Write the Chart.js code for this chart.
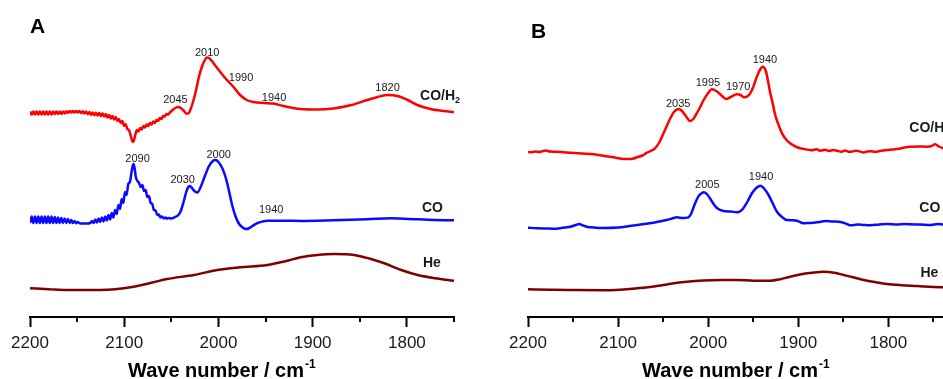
<!DOCTYPE html>
<html>
<head>
<meta charset="utf-8">
<script src="https://cdn.jsdelivr.net/npm/chart.js@4.4.1/dist/chart.umd.min.js"></script>
<style>
  html, body { margin: 0; padding: 0; background: #fff; }
  body { width: 943px; height: 379px; overflow: hidden; position: relative; }
  .panel { position: absolute; top: 0; height: 379px; }
  #panelA { left: 0; width: 470px; }
  #panelB { left: 470px; width: 490px; }
</style>
</head>
<body>
<div class="panel" id="panelA"><canvas id="chartA" width="470" height="379"></canvas></div>
<div class="panel" id="panelB"><canvas id="chartB" width="490" height="379"></canvas></div>
<script>
// x axis (wave number, cm-1), reversed
const xMajor = [2200, 2100, 2000, 1900, 1800];
const xMinor = [2150, 2050, 1950, 1850, 1750];

// panel A spectra: [wave number, intensity (a.u., offset stacked)]
const aCOH2 = [
  [2200, 205.5], [2198.2, 202.5], [2196.5, 205.5], [2194.7, 202.5], [2193, 205.5], [2191.2, 202.5],
  [2189.5, 205.5], [2187.7, 202.5], [2186, 205.5], [2184.2, 202.5], [2182.5, 205.5], [2180.7, 202.5],
  [2179, 205.5], [2177.2, 202.5], [2175.5, 205.5], [2173.7, 202.8], [2172, 205.5], [2170.2, 203],
  [2168.5, 205.5], [2166.7, 203], [2165, 205.6], [2163.2, 203.5], [2161.5, 205.8], [2159.7, 204],
  [2158, 206], [2156.2, 204.5], [2154.5, 206], [2152.7, 204.5], [2151, 206], [2149.2, 204.5],
  [2147.5, 206], [2145.7, 204], [2144, 205.8], [2142.2, 203.5], [2140.5, 205.5], [2138.7, 202.8],
  [2137, 205], [2135.2, 202.2], [2133.5, 204.5], [2131.7, 201.8], [2130, 204.2], [2128.2, 201.5],
  [2126.5, 204], [2124.7, 201], [2123, 203.5], [2121.2, 200.5], [2119.5, 203], [2117.7, 199.5],
  [2116, 202], [2114.2, 198.5], [2112.5, 201], [2110.7, 197.5], [2109, 200], [2107.2, 196],
  [2105.5, 198], [2103.7, 194], [2102, 196], [2100.2, 191], [2098.5, 193], [2096.7, 188],
  [2095, 187], [2093, 181], [2091.5, 176], [2090.5, 175], [2089.5, 177], [2088, 183],
  [2086.5, 187], [2085, 185.5], [2083.2, 189], [2081.5, 187.5], [2079.7, 191], [2078, 189.5],
  [2076.2, 192.5], [2074.5, 191], [2072.7, 194], [2071, 192.5], [2069.2, 195.5], [2067.5, 194],
  [2065.7, 197], [2064, 196], [2062.2, 199], [2060.5, 198], [2058.7, 201], [2057, 200.5],
  [2055.2, 203], [2053.5, 202.5], [2051, 205], [2048, 207.5], [2045, 209.5], [2043, 210],
  [2040, 209], [2037, 206.5], [2034, 203.5], [2032, 203.5], [2029.5, 208], [2027, 215],
  [2024, 226], [2021, 239], [2018, 249], [2015, 256], [2012, 259.5], [2010, 259],
  [2007, 256], [2003, 251], [1998, 245], [1991, 237], [1984, 230], [1977, 222],
  [1970, 217], [1963, 215], [1952, 214], [1942, 213.5], [1931, 211], [1913, 208],
  [1895, 207.5], [1878, 208.5], [1860, 211.7], [1842, 217], [1831, 220], [1820, 222],
  [1810, 221], [1799, 217], [1789, 212], [1775, 208], [1761, 206], [1750, 205]
];
const aCO = [
  [2200, 94], [2198.2, 100.5], [2196.5, 94], [2194.7, 100.5], [2193, 94], [2191.2, 100.5],
  [2189.5, 94], [2187.7, 100.5], [2186, 94], [2184.2, 100.5], [2182.5, 94], [2180.7, 100.5],
  [2179, 94], [2177.2, 100.5], [2175.5, 94], [2173.7, 100], [2172, 94], [2170.2, 99.5],
  [2168.5, 94], [2166.7, 99], [2165, 94], [2163.2, 98.5], [2161.5, 94], [2159.7, 98],
  [2158, 94], [2156.2, 97], [2154.5, 94], [2152.7, 96], [2151, 93.8], [2149.2, 95],
  [2147, 93.5], [2144, 93.5], [2140, 93.5], [2136, 94], [2134.2, 96], [2132.5, 94],
  [2130.7, 97.5], [2129, 94.5], [2127.2, 98.5], [2125.5, 95], [2123.7, 99.5], [2122, 95.5],
  [2120.2, 100.5], [2118.5, 96.5], [2116.7, 102], [2115, 97.5], [2113.2, 104], [2111.5, 99.5],
  [2109.7, 107], [2108, 103], [2106.2, 112], [2104.5, 108], [2102.7, 118], [2101, 114],
  [2099.2, 125], [2097.5, 122], [2095.7, 133], [2094, 135], [2092.2, 145], [2090.8, 152],
  [2090, 153], [2089, 149], [2087.7, 140], [2086, 136], [2084.2, 134], [2082.5, 130],
  [2080.7, 132], [2079, 126], [2077.2, 127], [2075.5, 120], [2073.7, 121], [2072, 114],
  [2070.2, 113], [2068.5, 107], [2066.7, 106.5], [2065, 102], [2063.2, 102.5], [2061.5, 99.5],
  [2059.7, 100.5], [2058, 98.5], [2056.2, 99.5], [2054.5, 98.5], [2052.7, 99], [2050, 98.5],
  [2046, 100], [2042.5, 102], [2040, 106], [2037, 115], [2034.5, 124], [2032, 130],
  [2030.5, 131], [2028.5, 129.5], [2025.5, 126], [2022.5, 124.5], [2018, 132], [2014, 142],
  [2010, 151], [2006, 156], [2003, 157], [2000, 155], [1996, 149], [1992.5, 140],
  [1989, 127], [1985.5, 112], [1982, 101], [1978.7, 94], [1975, 90], [1971, 88],
  [1968, 88.5], [1964, 91], [1958.5, 94], [1953, 95.5], [1948, 96.3], [1930, 96.3],
  [1912.8, 96], [1877.5, 96.7], [1842, 97.7], [1817, 98.7], [1788.6, 97.7], [1770, 97],
  [1750, 96.7]
];
const aHe = [
  [2200, 28.7], [2180, 27.8], [2161, 27], [2125, 27], [2090, 30.3], [2070, 34.5],
  [2054.6, 38], [2026, 42], [2001.4, 47], [1977, 49.7], [1948, 52], [1930, 55.5],
  [1912.8, 59.7], [1895, 62], [1877, 63], [1856, 62], [1840, 58.5], [1824, 53.7],
  [1806, 47], [1788.6, 42], [1770, 38.8], [1750, 36.3]
];

// panel B spectra
const bCOH2 = [
  [2200, 165], [2196, 164.7], [2192, 165.5], [2188, 165], [2184, 165.8], [2180, 166.5],
  [2176, 165.5], [2170, 165.3], [2163, 165], [2153, 164.3], [2140, 163.5], [2127, 162.7],
  [2115, 161], [2105, 159.7], [2096, 158.2], [2090, 158], [2084, 158.3], [2079, 159.7],
  [2073, 161.5], [2068, 164.3], [2063, 166.5], [2059, 168.7], [2054, 175], [2049.6, 183.7],
  [2046, 191], [2042, 198.7], [2038, 205], [2033, 208], [2029, 206], [2025.6, 202],
  [2020, 196], [2016.5, 198], [2014.4, 201], [2010, 208], [2005, 217], [2000, 224],
  [1996, 227.7], [1992, 226.5], [1988.5, 224.3], [1984, 220.5], [1980, 218], [1975, 220],
  [1968, 222.7], [1964, 222], [1960, 219.7], [1956, 221], [1953.3, 223.7], [1950, 230],
  [1946, 240.3], [1942, 248], [1939.6, 250.3], [1936, 246], [1931, 223.7], [1928, 212],
  [1925.6, 202], [1921, 190], [1918, 183.7], [1913, 177], [1909, 173.7], [1902, 170],
  [1894, 168], [1885, 166.8], [1880, 167.8], [1875.6, 166.3], [1870, 167.2], [1866, 166],
  [1861, 167], [1857, 166.3], [1852, 165.2], [1848, 166.4], [1844, 165.3], [1840, 165.5],
  [1836, 166.3], [1832, 165.6], [1827, 164.6], [1823.7, 165.5], [1819, 165.8], [1815, 165.2],
  [1808, 166.2], [1801.5, 167], [1795, 167.5], [1788, 168.3], [1782, 169.5], [1775.6, 170.3],
  [1766, 170.5], [1757, 170.3], [1752, 171], [1748, 172.7], [1744, 170.5], [1739, 168.7],
  [1735, 168]
];
const bCO = [
  [2200, 89.3], [2190, 88.8], [2180, 88.5], [2172, 88.3], [2163, 89], [2153, 90.3],
  [2147, 92], [2143, 93], [2139, 91.5], [2135, 90.3], [2125, 89.3], [2116, 89],
  [2100, 89.5], [2087, 91], [2075, 92.5], [2061, 94.3], [2046, 97], [2040, 98.5],
  [2035, 99.7], [2028, 99], [2022, 99.7], [2019, 103], [2016, 110.3], [2011, 120.3],
  [2007, 124], [2004.4, 124.7], [2001, 122.5], [1998, 118.7], [1994, 113], [1990, 108.7],
  [1983, 106], [1975, 105.5], [1968, 104.7], [1964, 106], [1961, 108.7], [1956, 116],
  [1951.4, 123.7], [1946, 129.5], [1942, 131.3], [1938, 128.5], [1933, 122], [1928, 113],
  [1923.7, 105.3], [1918, 100], [1912.6, 97], [1906, 96.8], [1901.5, 96.3], [1897, 94.5],
  [1894, 93.7], [1888, 94], [1883, 94.3], [1876, 95], [1870, 96], [1862, 95.5],
  [1853, 95], [1846, 93], [1842, 91.7], [1834, 92.5], [1827, 92], [1820, 91.7],
  [1810, 92.5], [1801.5, 93], [1790, 92.5], [1782, 93], [1775.6, 92.7], [1765, 92.5],
  [1753, 92], [1745, 93], [1738.5, 92.5], [1735, 92.5]
];
const bHe = [
  [2200, 27.7], [2175, 27.3], [2153, 27], [2116, 26.7], [2079, 28.7], [2060, 30.5],
  [2049.6, 32], [2036, 34], [2023.7, 35.3], [2005, 36.5], [1986.7, 37], [1968, 37],
  [1949.6, 36.3], [1931, 36.3], [1920, 37.8], [1909, 40.3], [1890, 43.7], [1872, 45.3],
  [1860, 44.3], [1849.6, 42], [1838, 39.5], [1827, 37], [1814, 34.8], [1801.5, 33],
  [1785, 31.8], [1768, 31], [1750, 30], [1739, 29.7], [1735, 29.6]
];

// peak labels: [text, wave number, intensity of baseline]
const aPeaks = [
  ['2010', 2012, 261], ['1990', 1976, 236], ['2045', 2045.7, 213.7], ['1940', 1941, 216.3],
  ['1820', 1820.5, 226.3], ['2090', 2085.8, 154.7], ['2030', 2038, 133.7], ['2000', 1999.7, 159.3],
  ['1940', 1944, 103.7]
];
const bPeaks = [
  ['1940', 1937, 254.3], ['1995', 2000.3, 231], ['1970', 1966.7, 227], ['2035', 2033.3, 210.3],
  ['2005', 2001, 128.7], ['1940', 1941.3, 137]
];
// trace names: [text, subscript, wave number, intensity of baseline]
const aNames = [['CO/H', '2', 1786, 217], ['CO', '', 1784, 105], ['He', '', 1783, 50]];
const bNames = [['CO/H', '2', 1776.7, 185], ['CO', '', 1765.6, 105], ['He', '', 1764.4, 40]];

const FONT = '"Liberation Sans", Arial, sans-serif';
Chart.defaults.font.family = FONT;

const textPlugin = {
  id: 'spectraText',
  afterDraw(chart, args, opts) {
    const ctx = chart.ctx;
    const xs = chart.scales.x;
    const ys = chart.scales.y;
    ctx.save();

    // short minor ticks
    ctx.strokeStyle = '#000';
    ctx.lineWidth = 2;
    xMinor.forEach(v => {
      const px = Math.round(xs.getPixelForValue(v));
      ctx.beginPath();
      ctx.moveTo(px, ys.bottom);
      ctx.lineTo(px, ys.bottom + 5);
      ctx.stroke();
    });

    ctx.fillStyle = '#1a1a1a';
    ctx.textBaseline = 'alphabetic';

    ctx.font = '11px ' + FONT;
    ctx.textAlign = 'center';
    opts.peaks.forEach(p => {
      ctx.fillText(p[0], xs.getPixelForValue(p[1]), ys.getPixelForValue(p[2]));
    });

    ctx.textAlign = 'left';
    opts.names.forEach(n => {
      const x = xs.getPixelForValue(n[2]);
      const y = ys.getPixelForValue(n[3]);
      ctx.font = 'bold 14px ' + FONT;
      ctx.fillText(n[0], x, y);
      if (n[1]) {
        const w = ctx.measureText(n[0]).width;
        ctx.font = 'bold 9px ' + FONT;
        ctx.fillText(n[1], x + w, y + 3);
      }
    });

    // panel letter
    ctx.fillStyle = '#000';
    ctx.font = 'bold 21px ' + FONT;
    ctx.fillText(opts.letter, xs.left + opts.letterDx, opts.letterY);

    // axis title with superscript
    const tx = xs.left + opts.titleDx;
    const ty = 377;
    ctx.font = 'bold 20px ' + FONT;
    const main = 'Wave number / cm';
    ctx.fillText(main, tx, ty);
    const mw = ctx.measureText(main).width;
    ctx.font = 'bold 12px ' + FONT;
    ctx.fillText('-1', tx + mw + 1, ty - 9);

    ctx.restore();
  }
};

function makeChart(id, series, xMin, pad, extra) {
  const colors = ['#ff0000', '#0a0aff', '#800000'];
  return new Chart(document.getElementById(id), {
    type: 'line',
    data: {
      datasets: series.map((s, i) => ({
        data: s.map(p => ({ x: p[0], y: p[1] })),
        borderColor: colors[i],
        borderWidth: 2.5,
        pointRadius: 0,
        cubicInterpolationMode: 'monotone',
        fill: false
      }))
    },
    options: {
      responsive: false,
      animation: false,
      devicePixelRatio: 1,
      layout: { padding: pad },
      plugins: {
        legend: { display: false },
        tooltip: { enabled: false },
        spectraText: extra
      },
      scales: {
        x: {
          type: 'linear',
          reverse: true,
          min: xMin,
          max: 2200,
          afterBuildTicks: scale => { scale.ticks = xMajor.map(v => ({ value: v })); },
          grid: { drawOnChartArea: false, drawTicks: true, tickLength: 10, tickWidth: 2, tickColor: '#000' },
          border: { display: true, color: '#000', width: 2 },
          ticks: {
            color: '#1a1a1a',
            font: { size: 17 },
            padding: 6,
            maxRotation: 0,
            callback: v => String(v)
          },
          title: { display: false }
        },
        y: {
          display: false,
          min: 0,
          max: 317
        }
      }
    },
    plugins: [textPlugin]
  });
}

makeChart('chartA', [aCOH2, aCO, aHe], 1750,
  { left: 30, right: 16, top: 0, bottom: 19.6 },
  { peaks: aPeaks, names: aNames, letter: 'A', letterDx: 0, letterY: 33, titleDx: 98 });

makeChart('chartB', [bCOH2, bCO, bHe], 1736,
  { left: 58, right: 14, top: 0, bottom: 19.6 },
  { peaks: bPeaks, names: bNames, letter: 'B', letterDx: 3, letterY: 38, titleDx: 114 });
</script>
</body>
</html>
